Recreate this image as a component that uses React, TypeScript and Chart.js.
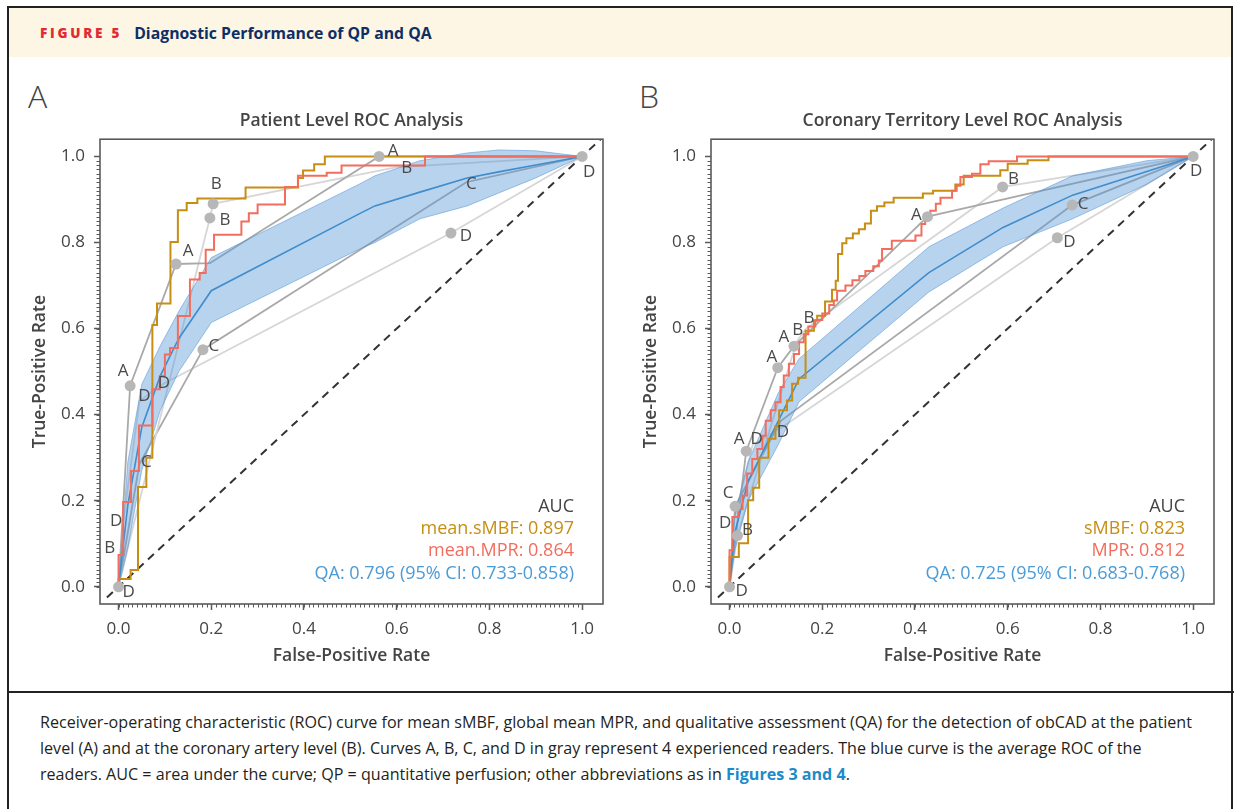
import React, { useEffect, useRef } from "react";
import { Chart, registerables } from "chart.js";

Chart.register(...registerables);

const FONT = "'Open Sans', 'DejaVu Sans', sans-serif";

// ---------------- axes ----------------
const AXIS_MIN = -0.04;
const X_MAX = 1.045;
const Y_MAX = 1.04;
const MAJOR_STEP = 0.2;
const MINOR_STEP = 0.01;
const DIAG = [-0.025, 1.04];

// ---------------- Panel A : patient level ----------------
const A_SMBF_FPR = [0, 0, 0.026, 0.042, 0.06, 0.073, 0.083, 0.112, 0.128, 0.147, 0.17, 0.274, 0.387, 0.398, 0.422, 0.445, 1.0];
const A_SMBF_TPR = [0, 0.018, 0.039, 0.232, 0.3, 0.608, 0.658, 0.801, 0.875, 0.892, 0.902, 0.928, 0.95, 0.967, 0.982, 1.0, 1.0];

const A_MPR_FPR = [0, 0, 0.01, 0.027, 0.044, 0.073, 0.089, 0.1, 0.111, 0.128, 0.154, 0.175, 0.188, 0.206, 0.265, 0.281, 0.3, 0.359, 0.387, 0.449, 0.481, 0.661, 1.0];
const A_MPR_TPR = [0, 0.074, 0.197, 0.269, 0.375, 0.459, 0.49, 0.54, 0.555, 0.629, 0.714, 0.729, 0.783, 0.818, 0.849, 0.868, 0.888, 0.929, 0.955, 0.962, 0.979, 1.0, 1.0];

const A_QA_FPR = [0, 0.02, 0.05, 0.09, 0.13, 0.2, 0.52, 0.553, 0.65, 0.752, 0.82, 0.9, 1];
const A_QA_TPR = [0, 0.19, 0.37, 0.49, 0.577, 0.688, 0.867, 0.885, 0.917, 0.95, 0.964, 0.98, 1];
const A_QA_HI = [0, 0.29, 0.47, 0.56, 0.64, 0.765, 0.936, 0.955, 0.99, 1.008, 1.015, 1.013, 1];
const A_QA_LO = [0, 0.09, 0.27, 0.41, 0.5, 0.614, 0.785, 0.8, 0.855, 0.885, 0.915, 0.95, 1];

const A_RA_FPR = [0, 0.025, 0.124, 0.197, 0.562, 1];
const A_RA_TPR = [0, 0.467, 0.75, 0.752, 1.0, 1];
const A_RB_FPR = [0, 0.02, 0.197, 0.204, 0.6, 1];
const A_RB_TPR = [0, 0.09, 0.857, 0.89, 0.975, 1];
const A_RC_FPR = [0, 0.045, 0.182, 0.75, 1];
const A_RC_TPR = [0, 0.285, 0.551, 0.94, 1];
const A_RD_FPR = [0, 0.01, 0.045, 0.085, 0.717, 1];
const A_RD_TPR = [0, 0.15, 0.43, 0.465, 0.822, 1];

const A_AUC_TEXT = ["AUC", "mean.sMBF: 0.897", "mean.MPR: 0.864", "QA: 0.796 (95% CI: 0.733-0.858)"];

// ---------------- Panel B : coronary territory level ----------------
const B_SMBF_FPR = [0, 0, 0.02, 0.04, 0.051, 0.064, 0.084, 0.099, 0.107, 0.124, 0.135, 0.148, 0.164, 0.182, 0.189, 0.206, 0.221, 0.229, 0.234, 0.243, 0.252, 0.266, 0.279, 0.292, 0.305, 0.318, 0.334, 0.354, 0.417, 0.439, 0.487, 0.505, 0.584, 0.6, 0.643, 0.688, 1.0];
const B_SMBF_TPR = [0, 0.069, 0.101, 0.201, 0.23, 0.3, 0.344, 0.373, 0.41, 0.433, 0.472, 0.486, 0.595, 0.618, 0.63, 0.663, 0.69, 0.711, 0.773, 0.798, 0.81, 0.821, 0.831, 0.844, 0.874, 0.884, 0.893, 0.904, 0.914, 0.92, 0.935, 0.955, 0.968, 0.983, 0.991, 1.0, 1.0];

const B_MPR_FPR = [0, 0, 0.006, 0.019, 0.028, 0.038, 0.049, 0.06, 0.071, 0.078, 0.089, 0.099, 0.11, 0.117, 0.128, 0.139, 0.15, 0.16, 0.17, 0.185, 0.2, 0.215, 0.225, 0.232, 0.25, 0.265, 0.28, 0.293, 0.31, 0.322, 0.329, 0.35, 0.401, 0.414, 0.422, 0.433, 0.445, 0.455, 0.48, 0.49, 0.498, 0.523, 0.541, 0.559, 0.62, 1.0];
const B_MPR_TPR = [0, 0.085, 0.162, 0.181, 0.212, 0.263, 0.297, 0.32, 0.351, 0.386, 0.41, 0.429, 0.464, 0.491, 0.518, 0.541, 0.568, 0.587, 0.605, 0.62, 0.635, 0.655, 0.665, 0.688, 0.7, 0.712, 0.722, 0.734, 0.745, 0.758, 0.785, 0.804, 0.816, 0.843, 0.862, 0.874, 0.89, 0.904, 0.92, 0.932, 0.952, 0.96, 0.982, 0.989, 1.0, 1.0];

const B_QA_FPR = [0, 0.01, 0.04, 0.105, 0.15, 0.43, 0.59, 0.74, 0.9, 1];
const B_QA_TPR = [0, 0.12, 0.245, 0.385, 0.483, 0.73, 0.835, 0.91, 0.965, 1];
const B_QA_HI = [0, 0.16, 0.29, 0.45, 0.53, 0.79, 0.88, 0.955, 0.99, 1];
const B_QA_LO = [0, 0.08, 0.2, 0.33, 0.43, 0.685, 0.79, 0.855, 0.935, 1];

const B_RA_FPR = [0, 0.036, 0.104, 0.139, 0.427, 1];
const B_RA_TPR = [0, 0.315, 0.509, 0.559, 0.86, 1];
const B_RB_FPR = [0, 0.017, 0.145, 0.165, 0.589, 1];
const B_RB_TPR = [0, 0.119, 0.57, 0.6, 0.929, 1];
const B_RC_FPR = [0, 0.012, 0.11, 0.739, 1];
const B_RC_TPR = [0, 0.187, 0.385, 0.887, 1];
const B_RD_FPR = [0, 0.008, 0.05, 0.115, 0.707, 1];
const B_RD_TPR = [0, 0.15, 0.33, 0.372, 0.811, 1];

const B_AUC_TEXT = ["AUC", "sMBF: 0.823", "MPR: 0.812", "QA: 0.725 (95% CI: 0.683-0.768)"];

// ---------------- styles ----------------
const GOLD = "#c78e12";
const RED = "#f26d5d";
const BLUE = "#3f8dcc";
const BLUE_TEXT = "#4b9bd6";
const BAND_FILL = "rgba(86,150,214,0.42)";
const BAND_EDGE = "rgba(86,150,214,0.55)";
const GRAY_MID = "#a9a9a9";
const GRAY_LIGHT = "#d6d6d6";
const DOT = "#b7b7b7";
const TXT = "#444444";
const FRAME = "#5a5a5a";
const READER_COLORS: Record<string, string> = { A: GRAY_MID, B: GRAY_LIGHT, C: GRAY_MID, D: GRAY_LIGHT };

const TICK_SIZE = 17;
const TITLE_SIZE = 17.5;
const LABEL_SIZE = 17;
const AUC_SIZE = 18;

// label placement (reader, point index, dx px, dy px)
const A_LABELS: [string, number, number, number][] = [
  ["A", 1, -7, -15], ["A", 2, 12, -13], ["A", 4, 14, -5],
  ["B", 1, -18, 0], ["B", 2, 15, 2], ["B", 3, 3, -20], ["B", 4, 10, 1],
  ["C", 1, 7, -2], ["C", 2, 11, -3], ["C", 3, 5, 2],
  ["D", 1, -7, -1], ["D", 2, 5, -6], ["D", 3, 6, -4], ["D", 4, 15, 3], ["D", 5, 7, 16], ["D", 0, 10, 5],
];
const A_DOTS: [string, number][] = [["A", 1], ["A", 2], ["A", 4], ["B", 2], ["B", 3], ["C", 2], ["D", 4], ["D", 5], ["D", 0]];

const B_LABELS: [string, number, number, number][] = [
  ["A", 1, -7, -12], ["A", 2, -6, -11], ["A", 3, -10, -9], ["A", 4, -11, -2],
  ["B", 1, 10, -5], ["B", 2, 1, -11], ["B", 3, 3, -10], ["B", 4, 11, -8],
  ["C", 1, -7, -13], ["C", 3, 11, -1],
  ["D", 1, -8, 1], ["D", 2, 4, -6], ["D", 3, 0, 5], ["D", 4, 12, 4], ["D", 5, 3, 15], ["D", 0, 12, 4],
];
const B_DOTS: [string, number][] = [["A", 1], ["A", 2], ["A", 3], ["A", 4], ["B", 1], ["B", 4], ["C", 1], ["C", 3], ["D", 4], ["D", 5], ["D", 0]];

type Readers = Record<string, { fpr: number[]; tpr: number[] }>;

interface PanelCfg {
  title: string;
  smbf: [number[], number[]];
  mpr: [number[], number[]];
  qa: { fpr: number[]; tpr: number[]; hi: number[]; lo: number[] };
  readers: Readers;
  labels: [string, number, number, number][];
  dots: [string, number][];
  auc: string[];
}

const PANEL_A: PanelCfg = {
  title: "Patient Level ROC Analysis",
  smbf: [A_SMBF_FPR, A_SMBF_TPR],
  mpr: [A_MPR_FPR, A_MPR_TPR],
  qa: { fpr: A_QA_FPR, tpr: A_QA_TPR, hi: A_QA_HI, lo: A_QA_LO },
  readers: {
    A: { fpr: A_RA_FPR, tpr: A_RA_TPR },
    B: { fpr: A_RB_FPR, tpr: A_RB_TPR },
    C: { fpr: A_RC_FPR, tpr: A_RC_TPR },
    D: { fpr: A_RD_FPR, tpr: A_RD_TPR },
  },
  labels: A_LABELS,
  dots: A_DOTS,
  auc: A_AUC_TEXT,
};

const PANEL_B: PanelCfg = {
  title: "Coronary Territory Level ROC Analysis",
  smbf: [B_SMBF_FPR, B_SMBF_TPR],
  mpr: [B_MPR_FPR, B_MPR_TPR],
  qa: { fpr: B_QA_FPR, tpr: B_QA_TPR, hi: B_QA_HI, lo: B_QA_LO },
  readers: {
    A: { fpr: B_RA_FPR, tpr: B_RA_TPR },
    B: { fpr: B_RB_FPR, tpr: B_RB_TPR },
    C: { fpr: B_RC_FPR, tpr: B_RC_TPR },
    D: { fpr: B_RD_FPR, tpr: B_RD_TPR },
  },
  labels: B_LABELS,
  dots: B_DOTS,
  auc: B_AUC_TEXT,
};

const pts = (xs: number[], ys: number[]) => xs.map((x, i) => ({ x, y: ys[i] }));

const CANVAS_W = 600;
const CANVAS_H = 575;

function buildConfig(p: PanelCfg): any {
  const readerKeys = Object.keys(p.readers);
  const dotData = p.dots.map(([r, i]) => ({ x: p.readers[r].fpr[i], y: p.readers[r].tpr[i] }));

  const datasets: any[] = [
    { label: "dots", data: dotData, showLine: false, pointRadius: 5.5, pointBackgroundColor: DOT, pointBorderWidth: 0, borderWidth: 0 },
    { label: "MPR", data: pts(p.mpr[0], p.mpr[1]), stepped: "before", borderColor: RED, borderWidth: 2, pointRadius: 0, fill: false },
    { label: "sMBF", data: pts(p.smbf[0], p.smbf[1]), stepped: "before", borderColor: GOLD, borderWidth: 2, pointRadius: 0, fill: false },
    { label: "QA", data: pts(p.qa.fpr, p.qa.tpr), borderColor: BLUE, borderWidth: 1.6, pointRadius: 0, fill: false },
    { label: "QA upper", data: pts(p.qa.fpr, p.qa.hi), borderColor: BAND_EDGE, borderWidth: 1, pointRadius: 0, fill: "+1", backgroundColor: BAND_FILL },
    { label: "QA lower", data: pts(p.qa.fpr, p.qa.lo), borderColor: BAND_EDGE, borderWidth: 1, pointRadius: 0, fill: false },
    { label: "chance", data: pts(DIAG, DIAG), borderColor: "#333333", borderWidth: 2, borderDash: [8, 6], pointRadius: 0, fill: false },
    ...readerKeys.map((k) => ({
      label: "Reader " + k,
      data: pts(p.readers[k].fpr, p.readers[k].tpr),
      borderColor: READER_COLORS[k],
      borderWidth: 1.8,
      pointRadius: 0,
      fill: false,
    })),
  ];

  const framePlugin = {
    id: "frameTicks",
    afterDraw(chart: any) {
      const { ctx, chartArea: ca, scales } = chart;
      ctx.save();
      ctx.strokeStyle = FRAME;
      ctx.lineWidth = 1.6;
      ctx.strokeRect(ca.left, ca.top, ca.right - ca.left, ca.bottom - ca.top);
      ctx.lineWidth = 1;
      ctx.beginPath();
      const n = Math.round(1 / MINOR_STEP);
      for (let i = 0; i <= n; i++) {
        const v = i * MINOR_STEP;
        const px = Math.round(scales.x.getPixelForValue(v)) + 0.5;
        ctx.moveTo(px, ca.bottom);
        ctx.lineTo(px, ca.bottom + 3.5);
        const py = Math.round(scales.y.getPixelForValue(v)) + 0.5;
        ctx.moveTo(ca.left, py);
        ctx.lineTo(ca.left - 3.5, py);
      }
      ctx.stroke();
      ctx.restore();
    },
  };

  const labelPlugin = {
    id: "readerLabels",
    afterDatasetsDraw(chart: any) {
      const { ctx, chartArea: ca, scales } = chart;
      ctx.save();
      ctx.font = `400 ${LABEL_SIZE}px ${FONT}`;
      ctx.fillStyle = "#4a4a4a";
      ctx.textAlign = "center";
      ctx.textBaseline = "middle";
      p.labels.forEach(([r, i, dx, dy]) => {
        const x = scales.x.getPixelForValue(p.readers[r].fpr[i]);
        const y = scales.y.getPixelForValue(p.readers[r].tpr[i]);
        ctx.fillText(r, x + dx, y + dy);
      });
      // AUC block
      const colors = [TXT, GOLD, RED, BLUE_TEXT];
      const offs = [97, 75, 53, 30];
      ctx.textAlign = "right";
      p.auc.forEach((t, i) => {
        ctx.font = `${i === 0 ? 400 : 500} ${AUC_SIZE}px ${FONT}`;
        ctx.fillStyle = colors[i];
        ctx.fillText(t, ca.right - 29, ca.bottom - offs[i]);
      });
      ctx.restore();
    },
  };

  const tickCfg = {
    stepSize: MAJOR_STEP,
    includeBounds: false,
    autoSkip: false,
    maxRotation: 0,
    color: TXT,
    font: { size: TICK_SIZE, family: FONT },
    callback: (v: any) => Number(v).toFixed(1),
  };
  const gridCfg = { display: true, drawOnChartArea: false, drawTicks: true, tickLength: 6, tickColor: FRAME, tickWidth: 1.5 };
  const axisTitleFont = { size: TITLE_SIZE, weight: "600", family: FONT };

  return {
    type: "line",
    data: { datasets },
    plugins: [framePlugin, labelPlugin],
    options: {
      animation: false,
      responsive: false,
      events: [],
      layout: { padding: { left: 0, right: 17, top: 0, bottom: 0 } },
      elements: { line: { tension: 0 } },
      plugins: {
        legend: { display: false },
        tooltip: { enabled: false },
        title: {
          display: true,
          text: p.title,
          fullSize: false,
          color: TXT,
          font: axisTitleFont,
          padding: { top: 10.5, bottom: 7.7 },
        },
      },
      scales: {
        x: {
          type: "linear",
          min: AXIS_MIN,
          max: X_MAX,
          afterFit: (s: any) => {
            s.height = 71;
          },
          ticks: { ...tickCfg, padding: 9 },
          grid: gridCfg,
          border: { display: false },
          title: { display: true, text: "False-Positive Rate", color: TXT, font: axisTitleFont, padding: { top: 0, bottom: 8 } },
        },
        y: {
          type: "linear",
          min: AXIS_MIN,
          max: Y_MAX,
          afterFit: (s: any) => {
            s.width = 80;
          },
          ticks: { ...tickCfg, padding: 9 },
          grid: gridCfg,
          border: { display: false },
          title: { display: true, text: "True-Positive Rate", color: TXT, font: axisTitleFont, padding: { top: 9.5, bottom: 0 } },
        },
      },
    },
  };
}

function Panel({ cfg, left, letter }: { cfg: PanelCfg; left: number; letter: string }) {
  const ref = useRef<HTMLCanvasElement>(null);
  useEffect(() => {
    const chart = new Chart(ref.current as HTMLCanvasElement, buildConfig(cfg));
    return () => chart.destroy();
  }, [cfg]);
  return (
    <>
      <div
        style={{
          position: "absolute",
          left: left + 8,
          top: 76,
          fontFamily: FONT,
          fontWeight: 300,
          fontSize: 32,
          color: TXT,
          lineHeight: "40px",
        }}
      >
        {letter}
      </div>
      <canvas
        ref={ref}
        width={CANVAS_W}
        height={CANVAS_H}
        style={{ position: "absolute", left, top: 100, width: CANVAS_W, height: CANVAS_H }}
      />
    </>
  );
}

export default function App() {
  return (
    <div style={{ position: "absolute", left: 0, top: 0, width: 1238, height: 809, overflow: "hidden", background: "#fff" }}>
      {/* outer frame */}
      <div
        style={{
          position: "absolute",
          left: 7,
          top: 6,
          width: 1226,
          height: 830,
          border: "2px solid #222",
          boxSizing: "border-box",
        }}
      />
      {/* header band */}
      <div
        style={{
          position: "absolute",
          left: 9,
          top: 8,
          width: 1222,
          height: 49,
          background: "#fdf6e5",
          display: "flex",
          alignItems: "center",
          fontFamily: FONT,
        }}
      >
        <span style={{ marginLeft: 31, color: "#e12a34", fontWeight: 800, fontSize: 13.5, letterSpacing: 2.75 }}>FIGURE 5</span>
        <span style={{ marginLeft: 12, color: "#0d2f66", fontWeight: 700, fontSize: 15.8 }}>Diagnostic Performance of QP and QA</span>
      </div>

      <Panel cfg={PANEL_A} left={20} letter="A" />
      <Panel cfg={PANEL_B} left={631} letter="B" />

      {/* divider */}
      <div style={{ position: "absolute", left: 8, top: 691, width: 1226, height: 2, background: "#222" }} />

      {/* caption */}
      <div
        style={{
          position: "absolute",
          left: 40,
          top: 709,
          fontFamily: FONT,
          fontSize: 16.1,
          lineHeight: "26px",
          color: "#231f20",
          whiteSpace: "nowrap",
        }}
      >
        Receiver-operating characteristic (ROC) curve for mean sMBF, global mean MPR, and qualitative assessment (QA) for the detection of obCAD at the patient
        <br />
        level (A) and at the coronary artery level (B). Curves A, B, C, and D in gray represent 4 experienced readers. The blue curve is the average ROC of the
        <br />
        readers. AUC = area under the curve; QP = quantitative perfusion; other abbreviations as in{" "}
        <span style={{ color: "#1d8bc9", fontWeight: 700 }}>Figures 3 and 4</span>.
      </div>
    </div>
  );
}
